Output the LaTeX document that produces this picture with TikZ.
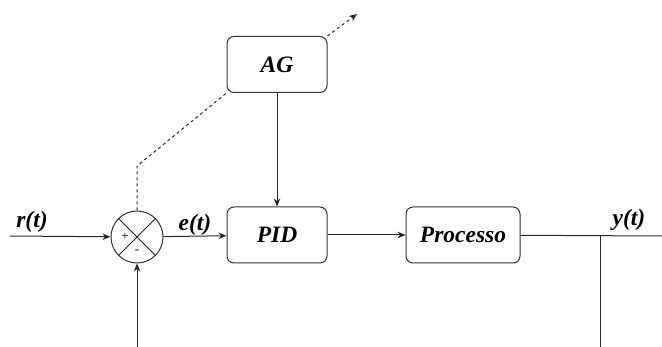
\documentclass[tikz,border=0pt]{standalone}
\usepackage{fontspec}
\setmainfont{Liberation Serif}
\usetikzlibrary{arrows.meta}

\begin{document}
\begin{tikzpicture}[x=1pt,y=-1pt,
  block/.style={draw=black!80, line width=1pt, rounded corners=7pt,
    minimum height=56pt, inner sep=0pt,
    font=\bfseries\itshape\fontsize{23.5}{26}\selectfont},
  siglabel/.style={anchor=base, inner sep=0pt,
    font=\bfseries\itshape\fontsize{23.5}{26}\selectfont},
  signlabel/.style={inner sep=0pt, font=\fontsize{13}{14}\selectfont},
  wire/.style={draw=black!85, line width=1pt},
  arr/.style={wire, -{Stealth[length=8pt,width=6.5pt]}},
  dashline/.style={dash pattern=on 3pt off 3pt}]
\useasboundingbox (0,0) rectangle (662,347);

% blocks
\node[block, minimum width=100pt] (ag) at (277,64.5) {AG};
\node[block, minimum width=100pt] (pid) at (277,235) {PID};
\node[block, minimum width=114pt] (proc) at (463,235) {Processo};

% summing junction
\node[circle, draw=black!80, line width=1pt, minimum size=52pt, inner sep=0pt] (sum) at (137,237) {};
\draw[wire] (sum.north west) -- (sum.south east);
\draw[wire] (sum.north east) -- (sum.south west);
\node[signlabel] (plus) at (125,237) {+};
\node[signlabel] (minus) at (137,252) {-};

% free ends
\coordinate (rin) at (10,236);
\coordinate (fb) at (137,347);
\coordinate (bend) at (137,166);
\coordinate (agout) at (357,14);
\coordinate (yend) at (662,236);
\coordinate (tap) at (600,236);
\coordinate (tapend) at (600,347);

% signal paths
\draw[arr] (rin) -- (sum);
\draw[arr] (fb) -- (sum);
\draw[arr] (sum) -- (pid);
\draw[arr] (pid) -- (proc);
\draw[arr] (ag) -- (pid);
\draw[wire] (proc) -- (yend);
\draw[wire] (tap) -- (tapend);

% tuning path
\draw[wire, dashline] (sum) -- (bend) -- (ag.south west);
\draw[arr, dashline] (ag.north east) -- (agout);

% signal names
\node[siglabel] (rlab) at (32,228) {r(t)};
\node[siglabel] (elab) at (195,231) {e(t)};
\node[siglabel] (ylab) at (629,226) {y(t)};
\end{tikzpicture}
\end{document}
